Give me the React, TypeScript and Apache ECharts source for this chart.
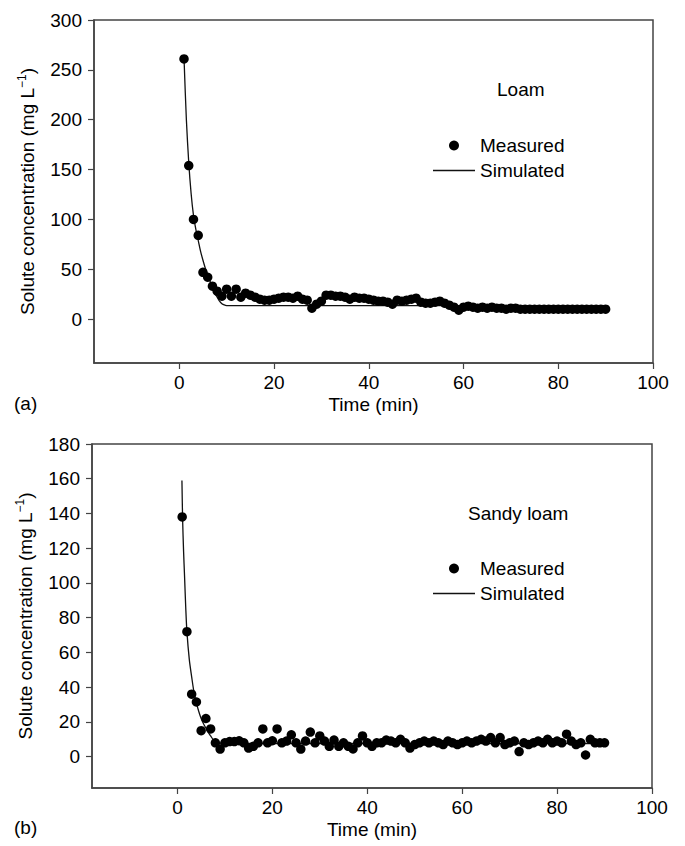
import React, { useEffect, useRef } from "react";
import * as echarts from "echarts";

// ---- Data ----
const minutes = [
  1, 2, 3, 4, 5, 6, 7, 8, 9, 10, 11, 12, 13, 14, 15, 16, 17, 18, 19, 20,
  21, 22, 23, 24, 25, 26, 27, 28, 29, 30, 31, 32, 33, 34, 35, 36, 37, 38, 39, 40,
  41, 42, 43, 44, 45, 46, 47, 48, 49, 50, 51, 52, 53, 54, 55, 56, 57, 58, 59, 60,
  61, 62, 63, 64, 65, 66, 67, 68, 69, 70, 71, 72, 73, 74, 75, 76, 77, 78, 79, 80,
  81, 82, 83, 84, 85, 86, 87, 88, 89, 90,
];

const loamMeasured = [
  261, 154, 100, 84, 47, 42, 33, 28, 23, 30,
  23, 30, 22, 26, 24, 22, 20, 19, 19, 20,
  21, 22, 22, 21, 23, 20, 19, 11, 15, 18,
  24, 24, 23, 23, 22, 20, 22, 21, 21, 20,
  19, 18, 18, 17, 15, 19, 18, 19, 20, 21,
  17, 16, 16, 17, 18, 16, 14, 12, 9, 12,
  13, 12, 11, 12, 11, 12, 11, 11, 10, 11,
  11, 10, 10, 10, 10, 10, 10, 10, 10, 10,
  10, 10, 10, 10, 10, 10, 10, 10, 10, 10,
];

const loamSimTime = [1, 1.5, 2, 2.5, 3, 3.5, 4, 4.5, 5, 5.5, 6, 6.5, 7, 7.5, 8, 8.5, 9, 9.5, 10, 11, 90];
const loamSimValue = [262, 200, 157, 126, 104, 90, 79, 68, 59, 51, 44, 38, 32, 26, 22, 18, 15.5, 14.2, 13.6, 13.5, 13.5];

const sandyMeasured = [
  138, 72, 36, 31.5, 15, 22, 16, 8, 4.4, 8,
  8.7, 8.7, 9.2, 8, 5, 6, 8, 16, 8, 9.2,
  16, 8, 9, 12.6, 8, 4.4, 9, 14.2, 8, 12,
  9, 6, 9.6, 6, 8, 6, 4.5, 8, 12, 8,
  6, 8, 8, 9.6, 9, 8, 10, 8, 5, 7,
  8, 9, 8, 9, 8, 7, 9, 8, 7, 8,
  9, 8, 9, 10, 9, 11, 8, 11, 7, 8,
  9, 3, 8, 7, 8, 9, 8, 10, 8, 9,
  8, 13, 9, 7, 8, 1, 10, 8, 8, 8,
];

const sandySimTime = [0.95, 1.1, 1.3, 1.5, 1.75, 2, 2.5, 3, 3.5, 4, 4.5, 5, 5.5, 6, 6.5, 7, 7.5, 8, 8.5, 9, 10, 90];
const sandySimValue = [159, 136, 118, 104, 86, 72, 56, 46, 37, 31, 26, 22, 19, 16.5, 14, 12, 10, 9, 8.2, 7.8, 7.6, 7.6];

const xTicks = [0, 20, 40, 60, 80, 100];
const yTicksLoam = [0, 50, 100, 150, 200, 250, 300];
const yTicksSandy = [0, 20, 40, 60, 80, 100, 120, 140, 160, 180];

const FONT = '"Liberation Sans", Arial, Helvetica, sans-serif';
const AXIS_COLOR = "#444";

export default function App() {
  const ref = useRef<HTMLDivElement>(null);

  useEffect(() => {
    if (!ref.current) return;
    const chart = echarts.init(ref.current, undefined, { renderer: "svg" });

    const pair = (xs: number[], ys: number[]) => xs.map((x, i) => [x, ys[i]]);

    const makeX = (gi: number) => ({
      gridIndex: gi,
      type: "value",
      min: -18,
      max: 100,
      axisLine: { show: true, onZero: false, lineStyle: { color: AXIS_COLOR, width: 1.5 } },
      axisTick: { show: true, customValues: xTicks, length: 6, lineStyle: { color: AXIS_COLOR, width: 1.2 } },
      axisLabel: { customValues: xTicks, fontSize: 19, color: "#000", margin: 10, fontFamily: FONT },
      splitLine: { show: false },
      name: "Time (min)",
      nameLocation: "middle",
      nameGap: 32,
      nameTextStyle: { fontSize: 19, color: "#000", fontFamily: FONT },
    });

    const makeY = (gi: number, min: number, max: number, ticks: number[]) => ({
      gridIndex: gi,
      type: "value",
      min,
      max,
      axisLine: { show: true, onZero: false, lineStyle: { color: AXIS_COLOR, width: 1.5 } },
      axisTick: { show: true, customValues: ticks, length: 6, lineStyle: { color: AXIS_COLOR, width: 1.2 } },
      axisLabel: { customValues: ticks, fontSize: 19, color: "#000", margin: 12, fontFamily: FONT },
      splitLine: { show: false },
      name: "Solute concentration (mg L{sup|−1})",
      nameLocation: "middle",
      nameRotate: 90,
      nameGap: 56,
      nameTextStyle: {
        fontSize: 19,
        color: "#000",
        fontFamily: FONT,
        lineHeight: 22,
        rich: {
          sup: { fontSize: 12, lineHeight: 12, verticalAlign: "top", color: "#000", fontFamily: FONT },
        },
      },
    });

    const legendBase = {
      orient: "vertical",
      left: 433,
      padding: 0,
      itemWidth: 42,
      itemHeight: 10,
      itemGap: 6,
      selectedMode: false,
      data: [
        { name: "Measured", icon: "circle" },
        { name: "Simulated", icon: "path://M0,0H42V1.3H0Z" },
      ],
      textStyle: { fontSize: 19, color: "#000", fontFamily: FONT },
    };

    const option: any = {
      animation: false,
      textStyle: { fontFamily: FONT },
      grid: [
        { left: 94, top: 20, width: 559, height: 343, show: true, borderColor: AXIS_COLOR, borderWidth: 1.5, containLabel: false },
        { left: 92, top: 444, width: 560, height: 344, show: true, borderColor: AXIS_COLOR, borderWidth: 1.5, containLabel: false },
      ],
      xAxis: [makeX(0), makeX(1)],
      yAxis: [makeY(0, -44, 300, yTicksLoam), makeY(1, -18, 180, yTicksSandy)],
      legend: [
        { ...legendBase, top: 136 },
        { ...legendBase, top: 559 },
      ],
      graphic: [
        { type: "text", left: 497, top: 80, style: { text: "Loam", fill: "#000", font: `19px ${FONT}` } },
        { type: "text", left: 468, top: 504, style: { text: "Sandy loam", fill: "#000", font: `19px ${FONT}` } },
        { type: "text", left: 14, top: 394, style: { text: "(a)", fill: "#000", font: `19px ${FONT}` } },
        { type: "text", left: 14, top: 818, style: { text: "(b)", fill: "#000", font: `19px ${FONT}` } },
      ],
      series: [
        {
          name: "Simulated",
          type: "line",
          xAxisIndex: 0,
          yAxisIndex: 0,
          data: pair(loamSimTime, loamSimValue),
          showSymbol: false,
          symbol: "none",
          smooth: 0.3,
          lineStyle: { color: "#111", width: 1.3 },
          itemStyle: { color: "#111" },
          z: 2,
        },
        {
          name: "Measured",
          type: "scatter",
          xAxisIndex: 0,
          yAxisIndex: 0,
          data: pair(minutes, loamMeasured),
          symbol: "circle",
          symbolSize: 9.5,
          itemStyle: { color: "#000", opacity: 1 },
          z: 3,
        },
        {
          name: "Simulated",
          type: "line",
          xAxisIndex: 1,
          yAxisIndex: 1,
          data: pair(sandySimTime, sandySimValue),
          showSymbol: false,
          symbol: "none",
          smooth: 0.3,
          lineStyle: { color: "#111", width: 1.3 },
          itemStyle: { color: "#111" },
          z: 2,
        },
        {
          name: "Measured",
          type: "scatter",
          xAxisIndex: 1,
          yAxisIndex: 1,
          data: pair(minutes, sandyMeasured),
          symbol: "circle",
          symbolSize: 9.5,
          itemStyle: { color: "#000", opacity: 1 },
          z: 3,
        },
      ],
    };

    chart.setOption(option);
    return () => chart.dispose();
  }, []);

  return <div ref={ref} style={{ width: 685, height: 846, position: "absolute", left: 0, top: 0, background: "#fff" }} />;
}
